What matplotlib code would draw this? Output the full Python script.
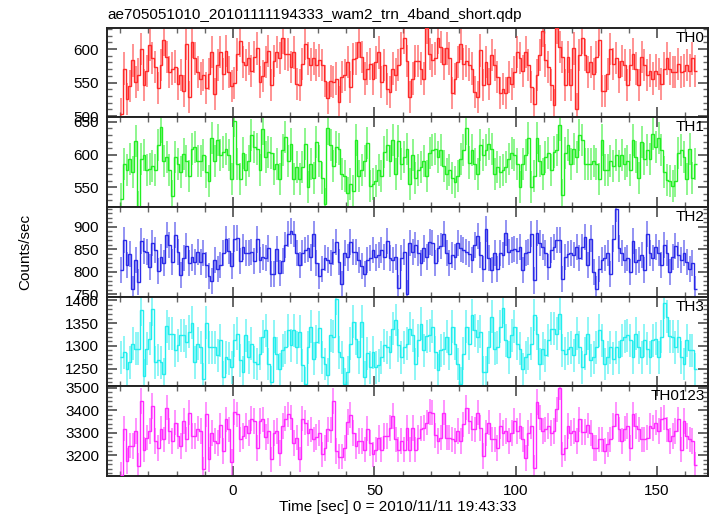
import numpy as np
import matplotlib
matplotlib.use("Agg")
import matplotlib.pyplot as plt
from matplotlib.ticker import MultipleLocator

plt.rcParams['font.family'] = ['Liberation Sans', 'DejaVu Sans']

title = "ae705051010_20101111194333_wam2_trn_4band_short.qdp"
xlabel = "Time [sec] 0 = 2010/11/11 19:43:33"
ylabel = "Counts/sec"
band_names = ["TH0", "TH1", "TH2", "TH3", "TH0123"]
t_start = -40.0
bin_width = 1.0

th0 = [503,571,525,545,583,551,562,600,546,567,
       606,587,573,542,576,613,588,566,571,574,
       548,561,538,608,528,610,586,566,556,561,
       542,563,596,533,576,596,563,597,566,545,
       550,592,612,581,576,586,567,588,601,551,
       560,581,597,547,582,596,587,616,593,592,
       573,595,548,547,578,608,586,577,586,576,
       583,576,553,527,552,551,556,521,558,561,
       581,543,585,586,611,588,556,571,578,555,
       580,595,551,576,541,536,571,562,576,601,
       616,
       582,528,556,582,582,571,556,631,593,583,
       586,616,603,578,601,586,535,555,581,607,
       578,582,577,571,536,528,598,547,581,548,
       591,576,558,535,541,535,558,548,566,596,
       587,567,596,576,543,518,561,591,627,583,
       573,547,516,631,603,588,546,588,546,601,
       511,591,617,591,566,581,563,588,613,538,
       538,563,600,578,587,558,582,576,546,576,
       593,571,546,588,576,561,568,556,568,563,
       548,571,586,571,566,566,578,566,568,576,
       568,586,567]

th1 = [532,586,576,594,573,621,520,594,599,576,
       578,583,576,615,643,591,596,576,537,596,
       586,573,601,591,568,609,612,591,591,599,
       573,560,625,591,622,599,604,608,599,563,
       651,586,563,602,576,591,630,612,609,576,
       639,596,604,602,578,586,563,607,627,591,
       617,563,581,563,581,617,550,586,565,620,
       591,565,524,640,615,583,612,609,570,568,
       542,555,545,622,568,576,591,618,552,555,
       560,576,568,604,615,591,622,570,621,586,
       596,
       609,555,599,565,576,581,591,568,602,607,
       608,596,607,583,570,576,565,558,568,594,
       607,640,588,607,586,570,615,599,607,617,
       608,570,581,573,576,581,594,602,599,586,
       550,586,599,625,550,568,625,591,570,596,
       602,576,604,607,646,539,602,615,586,609,
       596,630,622,586,586,586,591,586,563,622,
       576,576,591,583,599,583,599,586,591,576,
       622,596,565,620,594,607,594,632,612,625,
       607,573,561,560,552,560,602,607,596,563,
       609,564,586]

th2 = [805,870,815,839,763,826,778,869,847,844,
       811,865,848,802,832,820,881,859,822,881,
       844,793,830,857,820,832,822,844,822,842,
       815,790,780,826,807,815,841,872,847,813,
       874,876,824,856,842,841,844,824,872,827,
       833,830,852,796,796,850,798,824,859,885,
       891,884,842,815,842,848,852,832,885,820,
       790,807,830,827,820,844,867,822,774,842,
       832,867,844,844,826,813,796,827,830,848,
       832,837,848,833,869,830,827,833,765,830,
       844,
       752,864,844,859,841,819,852,833,867,864,
       819,852,857,885,841,819,837,833,864,852,
       848,844,839,826,859,879,837,807,896,830,
       804,841,807,841,837,887,844,848,850,847,
       856,804,841,844,885,781,887,864,856,841,
       811,848,856,870,870,785,833,839,841,837,
       856,830,856,878,815,874,800,763,807,826,
       830,841,796,874,939,852,841,826,830,800,
       869,822,826,837,804,885,841,830,856,841,
       815,859,841,800,833,857,837,826,841,822,
       807,820,761]

th3 = [1275,1286,1249,1264,1305,1294,1294,1379,1234,1294,
       1316,1380,1264,1269,1264,1238,1343,1327,1327,1290,
       1301,1323,1323,1309,1331,1351,1264,1305,1297,1227,
       1351,1297,1297,1297,1279,1312,1231,1275,1272,1253,
       1312,1327,1268,1242,1323,1275,1305,1264,1260,1283,
       1320,1334,1260,1220,1320,1283,1249,1290,1297,1334,
       1301,1334,1297,1331,1257,1217,1297,1342,1272,1309,
       1340,1275,1260,1237,1323,1320,1403,1286,1275,1216,
       1242,1305,1353,1316,1275,1353,1231,1284,1253,1286,
       1253,1257,1275,1301,1297,1286,1338,1357,1301,1275,
       1297,
       1305,1338,1323,1260,1312,1349,1290,1321,1323,1342,
       1286,1246,1290,1294,1320,1283,1342,1305,1260,1217,
       1283,1342,1305,1368,1334,1320,1331,1242,1242,1297,
       1364,1294,1297,1342,1383,1312,1275,1323,1342,1305,
       1294,1249,1275,1283,1305,1368,1327,1260,1294,1279,
       1312,1338,1338,1327,1371,1290,1283,1294,1297,1279,
       1327,1297,1253,1283,1327,1268,1275,1297,1334,1312,
       1260,1275,1297,1272,1297,1275,1312,1320,1323,1312,
       1275,1327,1297,1275,1312,1294,1275,1312,1316,1275,
       1320,1394,1364,1321,1320,1297,1320,1275,1260,1312,
       1290,1290,1249]

th0123 = [3113,3318,3173,3243,3240,3307,3151,3442,3225,3278,
          3307,3419,3263,3233,3318,3270,3412,3307,3263,3345,
          3285,3240,3352,3270,3390,3285,3285,3318,3307,3136,
          3382,3181,3300,3263,3255,3333,3218,3360,3315,3169,
          3393,3382,3270,3285,3330,3300,3363,3352,3233,3352,
          3360,3282,3307,3181,3300,3307,3210,3330,3363,3382,
          3367,3255,3278,3181,3363,3345,3300,3315,3270,3282,
          3300,3203,3233,3315,3312,3442,3218,3193,3193,3233,
          3348,3378,3300,3240,3263,3263,3225,3318,3255,3203,
          3225,3278,3225,3285,3285,3322,3375,3270,3225,3263,
          3225,
          3322,3225,3322,3225,3278,3318,3322,3345,3393,3390,
          3288,3263,3278,3390,3278,3278,3270,3263,3307,3263,
          3337,3412,3352,3318,3315,3390,3322,3196,3300,3345,
          3270,3270,3233,3330,3300,3307,3263,3300,3352,3307,
          3330,3270,3188,3300,3330,3143,3437,3367,3307,3315,
          3330,3300,3307,3404,3501,3203,3233,3330,3300,3307,
          3263,3360,3303,3303,3333,3300,3233,3233,3270,3270,
          3218,3248,3270,3330,3382,3315,3263,3318,3330,3233,
          3382,3330,3315,3270,3270,3278,3330,3322,3345,3307,
          3360,3367,3315,3263,3285,3307,3360,3225,3352,3285,
          3270,3263,3158]

series = [th0, th1, th2, th3, th0123]
errors = [24, 24.5, 29, 36, 57]
ylims = [(498, 632), (520, 657), (745, 944), (1211, 1408), (3107, 3507)]
major_steps = [50, 50, 50, 50, 100]
minor_steps = [10, 10, 10, 10, 20]
colors = ["#ff2a2a", "#22ee22", "#2a2ae8", "#22eeee", "#ff2aff"]

W, H = 717, 516
fig = plt.figure(figsize=(W / 100, H / 100), dpi=100)
axes = fig.subplots(5, 1, sharex=True,
                    gridspec_kw=dict(hspace=0, left=106.7 / W, right=708 / W,
                                     top=1 - 27.7 / H, bottom=1 - 476 / H))

for ax, vals, err, yl, mj, mn, col, name in zip(axes, series, errors, ylims,
                                                 major_steps, minor_steps, colors, band_names):
    vals = np.asarray(vals, dtype=float)
    n = len(vals)
    edges = t_start + bin_width * np.arange(n + 1)
    centers = edges[:-1] + bin_width / 2
    ax.errorbar(centers, vals, yerr=err, fmt='none', ecolor=col,
                elinewidth=1.3, alpha=0.55, capsize=0, zorder=2)
    ax.stairs(vals, edges, baseline=None, color=col, lw=1.0, zorder=3)
    ax.set_ylim(*yl)
    ax.set_xlim(-44.7, 168)
    ax.yaxis.set_major_locator(MultipleLocator(mj))
    ax.yaxis.set_minor_locator(MultipleLocator(mn))
    ax.xaxis.set_major_locator(MultipleLocator(50))
    ax.xaxis.set_minor_locator(MultipleLocator(10))
    ax.tick_params(which='both', direction='in', top=True, right=True,
                   color='#666666', labelsize=11, pad=5.5)
    ax.tick_params(which='major', length=7, width=1.4)
    ax.tick_params(which='minor', length=3.5, width=1.0)
    for s in ax.spines.values():
        s.set_linewidth(1.4)
        s.set_color('#222222')
    ax.text(0.995, 0.89, name, transform=ax.transAxes, ha='right',
            va='center', fontsize=11)

fig.text(107 / W, 1 - 15 / H, title, ha='left', va='center', fontsize=11)
fig.text(397.5 / W, 1 - 507 / H, xlabel, ha='center', va='center', fontsize=11)
fig.text(25 / W, 1 - 252 / H, ylabel, ha='center', va='center',
         rotation=90, fontsize=11)

fig.savefig("out.png", dpi=100)
